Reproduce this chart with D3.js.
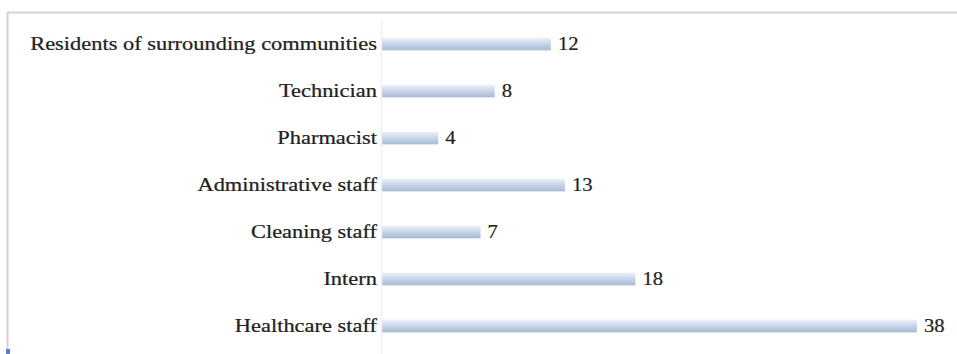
<!DOCTYPE html>
<html>
<head>
<meta charset="utf-8">
<script src="https://cdn.jsdelivr.net/npm/d3@7"></script>
<style>
  html, body { margin: 0; padding: 0; background: #fff; }
  svg { display: block; }
</style>
</head>
<body>
<svg id="chart" width="957" height="354"></svg>
<script>
// Respondent groups, listed top to bottom
const categories = [
  "Residents of surrounding communities",
  "Technician",
  "Pharmacist",
  "Administrative staff",
  "Cleaning staff",
  "Intern",
  "Healthcare staff"
];
const counts = [12, 8, 4, 13, 7, 18, 38];
const xMax = 38;

const W = 957, H = 354;
const svg = d3.select("#chart");

// Outer frame (top and left edges)
svg.append("line").attr("x1", 7).attr("x2", W).attr("y1", 12.5).attr("y2", 12.5)
  .attr("stroke", "#d4d4d4").attr("stroke-width", 2);
svg.append("line").attr("x1", 7.5).attr("x2", 7.5).attr("y1", 12).attr("y2", H)
  .attr("stroke", "#d4d4d4").attr("stroke-width", 2);
svg.append("rect").attr("x", 6).attr("y", 349).attr("width", 4).attr("height", 5)
  .attr("fill", "#5b7fc0");

const x = d3.scaleLinear().domain([0, xMax]).range([382, 917]);
const y = d3.scaleBand().domain(categories).range([20.5, 349.5])
  .paddingInner(0.73).paddingOuter(0.365);

// Bar fill: soft vertical blue gradient
const defs = svg.append("defs");
const grad = defs.append("linearGradient").attr("id", "barGrad")
  .attr("x1", 0).attr("y1", 0).attr("x2", 0).attr("y2", 1);
grad.append("stop").attr("offset", "0%").attr("stop-color", "#edf1f9");
grad.append("stop").attr("offset", "45%").attr("stop-color", "#ccd7ec");
grad.append("stop").attr("offset", "100%").attr("stop-color", "#a9bad5");

const data = categories.map((c, i) => ({ cat: c, v: counts[i] }));
const stretch = 1.15;
const font = "'Liberation Serif', 'Times New Roman', serif";

svg.selectAll("rect.bar").data(data).enter().append("rect")
  .attr("class", "bar")
  .attr("x", x(0))
  .attr("y", d => y(d.cat))
  .attr("width", d => x(d.v) - x(0))
  .attr("height", y.bandwidth())
  .attr("fill", "url(#barGrad)");

// Category axis
const axis = svg.append("g").attr("transform", `translate(${x(0) - 0.5},0)`)
  .call(d3.axisLeft(y).tickSize(0).tickPadding(4));
axis.select(".domain").attr("stroke", "#edf0f5").attr("stroke-width", 1.5)
  .attr("d", `M0,20V${H}`);
axis.selectAll(".tick text")
  .attr("font-family", font)
  .attr("font-size", 19.5)
  .attr("fill", "#222")
  .attr("stroke", "#222")
  .attr("stroke-width", 0.25)
  .attr("transform", `scale(${stretch},1)`);

// Value labels at bar ends
svg.selectAll("g.val").data(data).enter().append("g")
  .attr("class", "val")
  .attr("transform", d => `translate(${x(d.v) + 7},${y(d.cat) + y.bandwidth() / 2}) scale(${stretch},1)`)
  .append("text")
  .attr("dy", "0.35em")
  .attr("font-family", font)
  .attr("font-size", 18)
  .attr("fill", "#222")
  .attr("stroke", "#222")
  .attr("stroke-width", 0.2)
  .text(d => d.v);
</script>
</body>
</html>
